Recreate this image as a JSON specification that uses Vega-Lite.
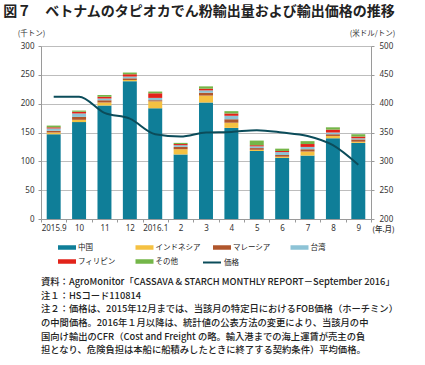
{
  "$schema": "https://vega.github.io/schema/vega-lite/v6.json",
  "padding": {"left": 3, "top": 5, "right": 0, "bottom": 0},
  "title": {"text": "図７　ベトナムのタピオカでん粉輸出量および輸出価格の推移", "anchor": "start", "font": "Noto Sans CJK JP", "fontSize": 14, "fontWeight": "bold", "color": "#222222", "offset": 10, "dx": -14},
  "datasets": {
    "exports": [
      {"m": "2015.9", "中国": 147, "インドネシア": 3, "マレーシア": 3, "台湾": 4, "フィリピン": 2, "その他": 3, "価格": 412},
      {"m": "10", "中国": 168, "インドネシア": 4, "マレーシア": 5, "台湾": 6, "フィリピン": 3, "その他": 2, "価格": 412},
      {"m": "11", "中国": 197, "インドネシア": 5, "マレーシア": 4, "台湾": 3, "フィリピン": 3, "その他": 3, "価格": 384},
      {"m": "12", "中国": 239, "インドネシア": 2, "マレーシア": 3, "台湾": 3, "フィリピン": 4, "その他": 3, "価格": 374},
      {"m": "2016.1", "中国": 192, "インドネシア": 12, "マレーシア": 2, "台湾": 4, "フィリピン": 8, "その他": 3, "価格": 347},
      {"m": "2", "中国": 112, "インドネシア": 9, "マレーシア": 4, "台湾": 3, "フィリピン": 2, "その他": 2, "価格": 343},
      {"m": "3", "中国": 202, "インドネシア": 12, "マレーシア": 5, "台湾": 4, "フィリピン": 3, "その他": 4, "価格": 350},
      {"m": "4", "中国": 158, "インドネシア": 9, "マレーシア": 6, "台湾": 6, "フィリピン": 4, "その他": 4, "価格": 351},
      {"m": "5", "中国": 118, "インドネシア": 2, "マレーシア": 3, "台湾": 3, "フィリピン": 2, "その他": 8, "価格": 354},
      {"m": "6", "中国": 106, "インドネシア": 2, "マレーシア": 3, "台湾": 5, "フィリピン": 2, "その他": 4, "価格": 350},
      {"m": "7", "中国": 110, "インドネシア": 7, "マレーシア": 4, "台湾": 4, "フィリピン": 5, "その他": 5, "価格": 344},
      {"m": "8", "中国": 140, "インドネシア": 4, "マレーシア": 3, "台湾": 3, "フィリピン": 5, "その他": 4, "価格": 328},
      {"m": "9", "中国": 132, "インドネシア": 2, "マレーシア": 4, "台湾": 2, "フィリピン": 3, "その他": 4, "価格": 294}
    ],
    "series": [
      {"key": "中国", "k": 1},
      {"key": "インドネシア", "k": 2},
      {"key": "マレーシア", "k": 3},
      {"key": "台湾", "k": 4},
      {"key": "フィリピン", "k": 5},
      {"key": "その他", "k": 6}
    ],
    "notes": [
      {"n": 1, "t": "資料：AgroMonitor「CASSAVA & STARCH MONTHLY REPORT－September 2016」"},
      {"n": 2, "t": "注１：HSコード110814"},
      {"n": 3, "t": "注２：価格は、2015年12月までは、当該月の特定日におけるFOB価格（ホーチミン）"},
      {"n": 4, "t": "　　　の中間価格。2016年１月以降は、統計値の公表方法の変更により、当該月の中"},
      {"n": 5, "t": "　　　国向け輸出のCFR（Cost and Freight の略。輸入港までの海上運賃が売主の負"},
      {"n": 6, "t": "　　　担となり、危険負担は本船に船積みしたときに終了する契約条件）平均価格。"}
    ]
  },
  "vconcat": [
    {
      "width": 330,
      "height": 173,
      "data": {"name": "exports"},
      "layer": [
        {
          "transform": [
            {"fold": ["中国", "インドネシア", "マレーシア", "台湾", "フィリピン", "その他"], "as": ["key", "value"]},
            {"lookup": "key", "from": {"data": {"name": "series"}, "key": "key", "fields": ["k"]}}
          ],
          "mark": {"type": "bar", "width": {"band": 0.55}},
          "encoding": {
            "x": {"field": "m", "type": "ordinal", "sort": null, "scale": {"paddingInner": 0, "paddingOuter": 0},
              "axis": {"title": "(年.月)", "labelAngle": 0, "tickBand": "extent", "tickSize": 3, "labelPadding": 2,
                "titleX": 342, "titleY": 6, "titleAlign": "center", "titleBaseline": "top", "titleFont": "Noto Sans CJK JP", "titleFontSize": 7.5, "titleFontWeight": 500}},
            "y": {"aggregate": "sum", "field": "value", "type": "quantitative", "stack": "zero",
              "scale": {"domain": [0, 300]},
              "axis": {"orient": "left", "values": [0, 50, 100, 150, 200, 250, 300], "grid": true, "title": "(千トン)",
                "titleAngle": 0, "titleX": -10, "titleY": -13, "titleAlign": "center", "titleBaseline": "middle",
                "titleFont": "Noto Sans CJK JP", "titleFontSize": 7.5, "titleFontWeight": "normal", "tickSize": 3, "labelPadding": 4}},
            "order": {"field": "k", "type": "quantitative", "aggregate": "min", "sort": "ascending"},
            "color": {"field": "key", "type": "nominal", "sort": ["中国", "インドネシア", "マレーシア", "台湾", "フィリピン", "その他"],
              "scale": {"domain": ["中国", "インドネシア", "マレーシア", "台湾", "フィリピン", "その他"],
                "range": ["#0F7E98", "#F5C142", "#B0562C", "#8DC3D6", "#E2231A", "#74B649"]},
              "legend": {"orient": "none", "direction": "horizontal", "legendX": 21.5, "legendY": 197, "columns": 4, "columnPadding": 11.5, "rowPadding": 6,
                "symbolType": "M-2,-0.5H2V0.5H-2Z", "symbolSize": 81, "symbolStrokeWidth": 0, "labelOffset": 6.5,
                "labelFontSize": 7.5, "labelFont": "Noto Sans CJK JP", "labelColor": "#222222", "title": null, "gridAlign": "all", "padding": 0}}
          }
        },
        {
          "mark": {"type": "line", "interpolate": "monotone", "strokeWidth": 2},
          "encoding": {
            "x": {"field": "m", "type": "ordinal", "sort": null},
            "y": {"field": "価格", "type": "quantitative", "scale": {"domain": [200, 500]},
              "axis": {"orient": "right", "values": [200, 250, 300, 350, 400, 450, 500], "grid": false, "title": "(米ドル/トン)",
                "titleAngle": 0, "titleX": 1, "titleY": -13, "titleAlign": "center", "titleBaseline": "middle",
                "titleFont": "Noto Sans CJK JP", "titleFontSize": 7.5, "titleFontWeight": "normal", "tickSize": 3, "labelPadding": 5}},
            "stroke": {"datum": "価格", "type": "nominal", "scale": {"range": ["#0B4C5A"]},
              "legend": {"orient": "none", "direction": "horizontal", "legendX": 165.5, "legendY": 211, "symbolType": "M-2,0H2", "symbolSize": 81,
                "symbolStrokeWidth": 2, "labelOffset": 6.5, "labelFontSize": 7.5, "labelFont": "Noto Sans CJK JP", "labelColor": "#222222", "title": null, "padding": 0}}
          }
        }
      ],
      "resolve": {"scale": {"y": "independent"}}
    },
    {
      "width": 400,
      "height": 82,
      "data": {"name": "notes"},
      "mark": {"type": "text", "align": "left", "baseline": "middle", "font": "Noto Sans CJK JP", "fontSize": 9.3, "fontWeight": 500, "color": "#222222"},
      "encoding": {
        "x": {"datum": 0, "type": "quantitative", "scale": {"domain": [0, 1]}, "axis": null},
        "y": {"field": "n", "type": "ordinal", "axis": null, "scale": {"type": "point", "padding": 0.5}},
        "text": {"field": "t"}
      }
    }
  ],
  "spacing": 42,
  "config": {
    "view": {"stroke": null},
    "axis": {"labelFont": "Noto Sans", "labelFontSize": 8, "labelColor": "#333333", "domainColor": "#9A9A9A", "tickColor": "#9A9A9A", "gridColor": "#BDBDBD", "titleColor": "#333333"}
  }
}
